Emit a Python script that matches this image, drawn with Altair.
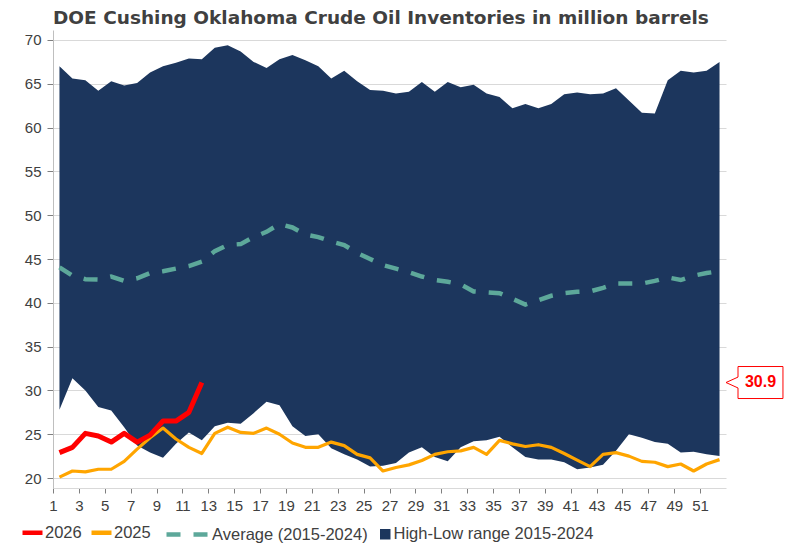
import altair as alt
import pandas as pd

# ---------------- data ----------------
weeks = list(range(1, 53))

high = [67.0, 65.6, 65.4, 64.2, 65.3, 64.8, 65.1, 66.3, 67.0, 67.4,
        67.9, 67.8, 69.1, 69.4, 68.7, 67.5, 66.8, 67.8, 68.3, 67.7,
        67.0, 65.6, 66.5, 65.3, 64.3, 64.2, 63.9, 64.1, 65.2, 64.1,
        65.2, 64.6, 64.9, 63.9, 63.5, 62.2, 62.7, 62.2, 62.7, 63.8,
        64.0, 63.8, 63.9, 64.5, 63.1, 61.7, 61.6, 65.4, 66.5, 66.3,
        66.5, 67.5]

low = [27.8, 31.4, 30.0, 28.1, 27.7, 25.8, 23.7, 22.9, 22.3, 23.9,
       25.2, 24.3, 25.9, 26.3, 26.2, 27.4, 28.7, 28.3, 25.9, 24.8,
       25.0, 23.4, 22.7, 22.1, 21.3, 21.4, 21.7, 22.9, 23.5, 22.4,
       21.9, 23.5, 24.2, 24.3, 24.7, 23.5, 22.4, 22.1, 22.1, 21.8,
       21.0, 21.2, 21.5, 23.1, 25.0, 24.6, 24.1, 23.9, 22.9, 23.0,
       22.7, 22.5]

avg = [44.05, 43.1, 42.7, 42.65, 43.0, 42.5, 42.8, 43.4, 43.6, 43.9,
       44.2, 44.7, 45.9, 46.6, 46.7, 47.5, 48.1, 49.0, 48.6, 47.8,
       47.5, 47.0, 46.6, 45.7, 45.0, 44.3, 43.9, 43.5, 43.0, 42.6,
       42.4, 42.1, 41.3, 41.2, 41.1, 40.45, 39.8, 40.3, 40.8, 41.1,
       41.25, 41.3, 41.7, 42.2, 42.2, 42.2, 42.5, 42.9, 42.6, 43.1,
       43.4, 43.6]

y2025 = [20.1, 20.8, 20.7, 21.0, 21.0, 21.9, 23.3, 24.6, 25.7, 24.45,
         23.5, 22.8, 25.1, 25.8, 25.2, 25.1, 25.7, 25.0, 24.0, 23.5,
         23.5, 24.1, 23.7, 22.7, 22.3, 20.8, 21.2, 21.5, 22.0, 22.7,
         23.0, 23.1, 23.5, 22.7, 24.3, 23.9, 23.6, 23.8, 23.5, 22.8,
         22.05, 21.3, 22.7, 22.9, 22.5, 21.9, 21.8, 21.3, 21.6, 20.8,
         21.6, 22.1]

y2026 = [22.9, 23.5, 25.1, 24.8, 24.1, 25.1, 24.1, 24.9, 26.5, 26.5,
         27.5, 30.9]

x_tick_values = [w - 0.5 for w in range(1, 53, 2)]
y_tick_values = [20, 25, 30, 35, 40, 45, 50, 55, 60, 65, 70]
x_domain = [0.5, 52.5]
y_domain = [18.86, 71.14]

series_names = ["2026", "2025"]
avg_name = "Average (2015-2024)"
range_name = "High-Low range 2015-2024"
title_text = "DOE Cushing Oklahoma Crude Oil Inventories in million barrels"

# ---------------- tables ----------------
range_df = pd.DataFrame({"week": weeks, "low": low, "high": high, "rng": range_name})
avg_df = pd.DataFrame({"week": weeks, "value": avg, "avgname": avg_name})
df25 = pd.DataFrame({"week": weeks, "value": y2025, "series": "2025"})
df26 = pd.DataFrame({"week": weeks[:len(y2026)], "value": y2026, "series": "2026"})
callout_df = pd.DataFrame({"week": [x_domain[1]], "value": [y2026[-1]],
                           "label": [f"{y2026[-1]:.1f}"]})

FONT = "Liberation Sans"
TXT = "#404040"
NAVY = "#1C365D"
TEAL = "#5DA89A"
RED = "#FF0000"
ORANGE = "#FFA500"

x_axis = alt.Axis(values=x_tick_values, labelExpr="format(datum.value + 0.5, 'd')",
                  grid=False, tickSize=5, tickColor="#7F7F7F", domainColor="#D9D9D9",
                  labelFontSize=15, labelColor=TXT, labelFont=FONT, labelFlush=False,
                  labelOverlap=False, labelPadding=5)
y_axis = alt.Axis(values=y_tick_values, grid=True, gridColor="#D9D9D9", gridWidth=1,
                  tickSize=6, tickColor="#7F7F7F", domainColor="#BFBFBF",
                  labelFontSize=15, labelColor=TXT, labelFont=FONT, labelPadding=6)

x_scale = alt.Scale(domain=x_domain, nice=False, zero=False)
y_scale = alt.Scale(domain=y_domain, nice=False, zero=False)

LEG_C = 502  # legend row centre, px below plot top

legend_common = dict(orient="none", direction="horizontal", title=None,
                     labelFont=FONT, labelFontSize=16.5, labelColor=TXT, padding=0,
                     labelLimit=400)

area = alt.Chart(range_df).mark_area(opacity=1).encode(
    x=alt.X("week:Q", scale=x_scale, axis=x_axis, title=None),
    y=alt.Y("low:Q", scale=y_scale, axis=y_axis, title=None),
    y2="high:Q",
    fill=alt.Fill("rng:N", scale=alt.Scale(domain=[range_name], range=[NAVY]),
                  legend=alt.Legend(legendX=324, legendY=LEG_C - 6, symbolType="square",
                                    symbolSize=110, symbolStrokeWidth=0, labelOffset=0,
                                    **legend_common)),
)

avg_line = alt.Chart(avg_df).mark_line(color=TEAL, strokeWidth=4.5).encode(
    x=alt.X("week:Q", scale=x_scale, axis=x_axis, title=None),
    y=alt.Y("value:Q", scale=y_scale, axis=y_axis, title=None),
    strokeDash=alt.StrokeDash("avgname:N", scale=alt.Scale(domain=[avg_name], range=[[14, 13]]),
                              legend=alt.Legend(legendX=111, legendY=LEG_C - 21.5,
                                                symbolType="stroke", symbolSize=1849,
                                                symbolStrokeColor=TEAL, symbolStrokeWidth=4.5,
                                                labelOffset=0, **legend_common)),
)

color_enc = alt.Color("series:N", scale=alt.Scale(domain=series_names, range=[RED, ORANGE]),
                      legend=alt.Legend(legendX=-33, legendY=LEG_C - 12, symbolType="stroke",
                                        symbolSize=400, symbolStrokeWidth=4.5, columnPadding=0,
                                        labelOffset=0, **legend_common))

l25 = alt.Chart(df25).mark_line(strokeWidth=3.2, strokeJoin="round").encode(
    x=alt.X("week:Q", scale=x_scale, axis=x_axis, title=None),
    y=alt.Y("value:Q", scale=y_scale, axis=y_axis, title=None),
    color=color_enc,
)
l26 = alt.Chart(df26).mark_line(strokeWidth=5, strokeJoin="round").encode(
    x=alt.X("week:Q", scale=x_scale, axis=x_axis, title=None),
    y=alt.Y("value:Q", scale=y_scale, axis=y_axis, title=None),
    color=color_enc,
)

callout_shape = "M0,0L0.75,-0.34L0.75,-1L3.56,-1L3.56,1L0.75,1L0.75,0.34Z"
box = alt.Chart(callout_df).mark_point(shape=callout_shape, size=1024, filled=True,
                                       fill="white", stroke=RED, strokeWidth=1,
                                       opacity=1).encode(
    x=alt.X("week:Q", scale=x_scale, axis=x_axis, title=None),
    y=alt.Y("value:Q", scale=y_scale, axis=y_axis, title=None),
)
txt = alt.Chart(callout_df).mark_text(dx=34.5, dy=-1, align="center", baseline="middle",
                                      font=FONT, fontSize=16, fontWeight="bold",
                                      color=RED).encode(
    x=alt.X("week:Q", scale=x_scale, axis=x_axis, title=None),
    y=alt.Y("value:Q", scale=y_scale, axis=y_axis, title=None),
    text="label:N",
)

chart = alt.layer(area, avg_line, l25, l26, box, txt).properties(
    width=673, height=458,
    title=alt.TitleParams(text=title_text, anchor="start", frame="group", fontSize=18.5,
                          fontWeight="bold", color=TXT, font="DejaVu Sans", offset=3),
    padding={"left": 45, "top": 22, "right": 63, "bottom": 55},
    autosize=alt.AutoSizeParams(type="none"),
).configure_view(strokeWidth=0)

chart.save("out.html", embed_options={"renderer": "svg", "actions": False})
